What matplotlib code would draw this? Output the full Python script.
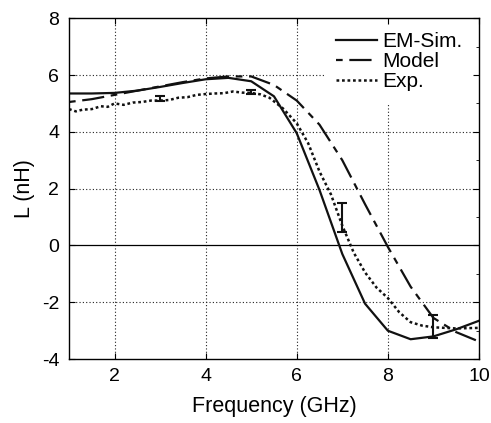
import matplotlib.pyplot as plt
from matplotlib.ticker import MultipleLocator
from matplotlib.patches import Rectangle

plt.rcParams['font.family'] = ['Liberation Sans', 'DejaVu Sans']
plt.rcParams['axes.unicode_minus'] = False

# EM simulation
f_sim = [1, 1.5, 2, 2.5, 3, 3.5, 4, 4.5, 5, 5.5, 6, 6.5, 7, 7.5, 8, 8.5, 9, 9.5, 10]
L_sim = [5.35, 5.35, 5.37, 5.45, 5.58, 5.72, 5.85, 5.9, 5.78, 5.25, 3.95, 1.95,
         -0.3, -2.05, -3.0, -3.3, -3.2, -2.95, -2.65]

# model
f_mod = [1, 1.5, 2, 2.5, 3, 3.5, 4, 4.5, 5, 5.5, 6, 6.5, 7, 7.5, 8, 8.5, 9, 9.5, 10]
L_mod = [5.05, 5.15, 5.3, 5.45, 5.6, 5.75, 5.88, 5.95, 5.95, 5.65, 5.1, 4.25,
         3.0, 1.45, -0.05, -1.45, -2.55, -3.05, -3.38]

# measurement
f_exp = [1.0, 1.15, 1.3, 1.5, 1.7, 1.85, 2.0, 2.2, 2.4, 2.6, 2.8, 3.0, 3.2, 3.4,
         3.6, 3.8, 4.0, 4.2, 4.4, 4.6, 4.8, 5.0, 5.2, 5.4, 5.7, 6.0, 6.25, 6.5,
         6.75, 7.0, 7.25, 7.5, 7.75, 8.0, 8.25, 8.5, 8.75, 9.0, 9.5, 10.0]
L_exp = [4.8, 4.72, 4.78, 4.8, 4.9, 4.88, 5.0, 4.95, 5.03, 5.05, 5.1, 5.1, 5.12,
         5.2, 5.22, 5.3, 5.33, 5.35, 5.36, 5.42, 5.38, 5.37, 5.32, 5.2, 4.82,
         4.3, 3.6, 2.6, 1.8, 0.7, -0.25, -0.95, -1.48, -1.85, -2.35, -2.7,
         -2.82, -2.88, -2.92, -2.9]

# error bars on measurement
f_err = [3.0, 5.0, 7.0, 9.0]
L_err = [5.18, 5.4, 0.97, -2.85]
d_err = [0.08, 0.08, 0.51, 0.39]

xticks = [2, 4, 6, 8, 10]
yticks = [-4, -2, 0, 2, 4, 6, 8]

fig = plt.figure(figsize=(4.91, 4.23), dpi=100)
ax = fig.add_axes([0.1405, 0.151, 0.835, 0.806])

# dotted grid, drawn low so the legend box can hide it
for v in xticks[:-1]:
    ax.axvline(v, color='#222222', lw=0.8, linestyle=(0, (1, 2)), zorder=0.5)
for v in yticks[1:-1]:
    if v != 0:
        ax.axhline(v, color='#222222', lw=0.8, linestyle=(0, (1, 2)), zorder=0.5)
ax.axhline(0, color='black', lw=0.9, zorder=0.6)
ax.add_patch(Rectangle((0.624, 0.745), 0.376, 0.255, transform=ax.transAxes,
                       facecolor='white', edgecolor='none', zorder=1.0))

ax.plot(f_sim, L_sim, color='#111111', lw=1.6, label='EM-Sim.')
ax.plot(f_mod, L_mod, color='#111111', lw=1.6, linestyle=(13, (10, 3, 3, 3)), label='Model')
ax.plot(f_exp, L_exp, color='#111111', lw=1.8, linestyle=(0, (1.1, 1.1)), label='Exp.')
ax.errorbar(f_err, L_err, yerr=d_err, fmt='none', ecolor='#111111', elinewidth=1.5,
            capsize=3.6, capthick=1.5)

ax.set_xlim(1, 10)
ax.set_ylim(-4, 8)
ax.set_xticks(xticks)
ax.set_yticks(yticks)
ax.tick_params(direction='in', top=True, right=True, labelsize=14, length=4)
ax.tick_params(axis='y', pad=7)
ax.tick_params(axis='x', pad=6.5)
ax.yaxis.set_minor_locator(MultipleLocator(1))
ax.tick_params(which='minor', direction='in', left=False, right=True, length=2)
for s in ax.spines.values():
    s.set_linewidth(1.0)

ax.set_xlabel('Frequency (GHz)', fontsize=15.5, labelpad=8)
ax.set_ylabel('L (nH)', fontsize=15.5, labelpad=5)

leg = ax.legend(loc='upper left', bbox_to_anchor=(0.652, 0.959), fontsize=15,
                frameon=False, handlelength=1.97, handletextpad=0.24,
                labelspacing=0.05, borderaxespad=0, borderpad=0)

fig.savefig('out.png', dpi=100)
